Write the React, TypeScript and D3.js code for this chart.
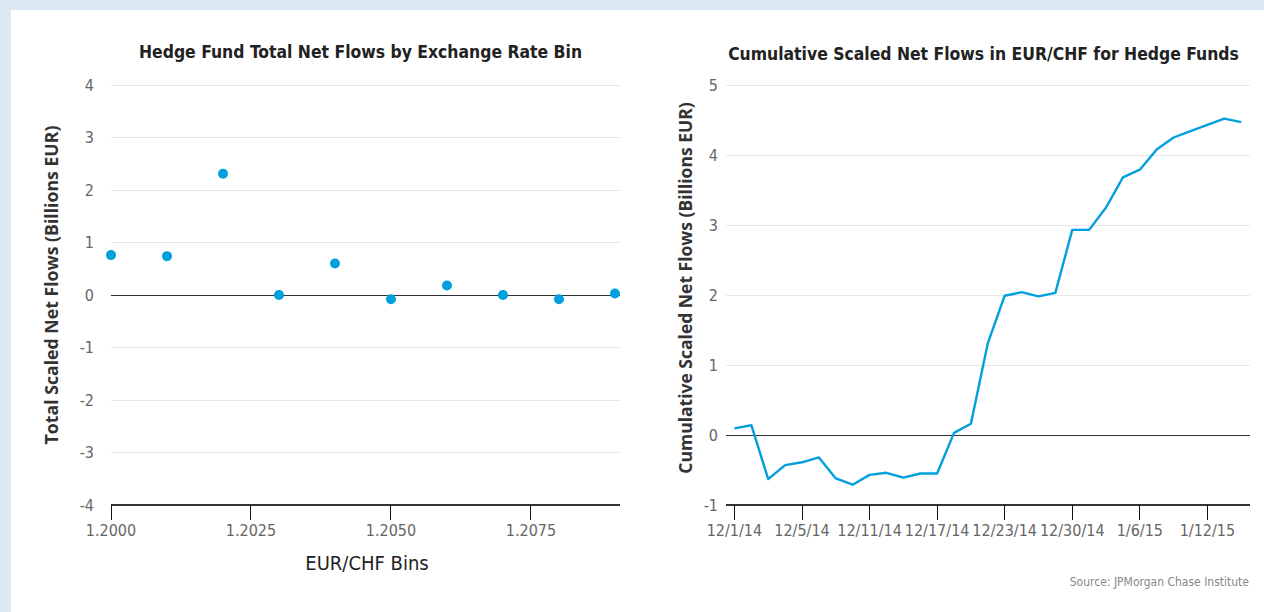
import React from "react";
import * as d3 from "d3";

const binCenters = [1.2, 1.201, 1.202, 1.203, 1.204, 1.205, 1.206, 1.207, 1.208, 1.209];
const binFlows = [0.76, 0.74, 2.31, 0.0, 0.6, -0.08, 0.18, 0.0, -0.08, 0.03];
const leftYTicks = [4, 3, 2, 1, 0, -1, -2, -3, -4];
const leftXTicks = [1.2, 1.2025, 1.205, 1.2075];

const dates = [
  "12/1/14", "12/2/14", "12/3/14", "12/4/14", "12/5/14", "12/8/14", "12/9/14", "12/10/14",
  "12/11/14", "12/12/14", "12/15/14", "12/16/14", "12/17/14", "12/18/14", "12/19/14", "12/22/14",
  "12/23/14", "12/24/14", "12/26/14", "12/29/14", "12/30/14", "12/31/14", "1/2/15", "1/5/15",
  "1/6/15", "1/7/15", "1/8/15", "1/9/15", "1/12/15", "1/13/15", "1/14/15",
];
const cumFlows = [
  0.095, 0.14, -0.63, -0.43, -0.39, -0.32, -0.62, -0.71,
  -0.57, -0.54, -0.61, -0.55, -0.55, 0.03, 0.16, 1.31,
  1.99, 2.04, 1.98, 2.03, 2.93, 2.93, 3.25, 3.68,
  3.79, 4.08, 4.25, 4.34, 4.43, 4.52, 4.47,
];
const rightYTicks = [5, 4, 3, 2, 1, 0, -1];
const rightXTicks = ["12/1/14", "12/5/14", "12/11/14", "12/17/14", "12/23/14", "12/30/14", "1/6/15", "1/12/15"];

const condensed = "'DejaVu Sans Condensed', 'Roboto', sans-serif";
const boldSans = "'Open Sans', 'DejaVu Sans', sans-serif";
const BLUE = "#00a0dd";
const GRID = "#e8e8e8";
const AXIS = "#333";
const TICK_TEXT = "#666";

function LeftChart() {
  const x = d3.scaleLinear().domain([1.2, 1.20909]).range([111, 620]);
  const y = d3.scaleLinear().domain([-4, 4]).range([505, 85]);
  const fmt = d3.format(".4f");
  return (
    <g>
      <text x={360.5} y={58} textAnchor="middle" fontFamily={condensed} fontWeight={700} fontSize={17.4} fill="#222">
        Hedge Fund Total Net Flows by Exchange Rate Bin
      </text>
      {leftYTicks.map((t) => (
        <g key={t}>
          {t !== -4 && t !== 0 && (
            <line x1={111} x2={620} y1={y(t)} y2={y(t)} stroke={GRID} strokeWidth={1} shapeRendering="crispEdges" />
          )}
          <text x={94} y={y(t)} dy="0.35em" textAnchor="end" fontFamily={condensed} fontSize={16} fill={TICK_TEXT}>
            {t}
          </text>
        </g>
      ))}
      <line x1={111} x2={620} y1={y(0)} y2={y(0)} stroke={AXIS} strokeWidth={1} shapeRendering="crispEdges" />
      <line x1={111} x2={620} y1={y(-4)} y2={y(-4)} stroke={AXIS} strokeWidth={2} shapeRendering="crispEdges" />
      {leftXTicks.map((t) => (
        <g key={t}>
          <line x1={x(t)} x2={x(t)} y1={y(-4)} y2={y(-4) + 15} stroke="#111" strokeWidth={1} shapeRendering="crispEdges" />
          <text x={x(t)} y={536} textAnchor="middle" fontFamily={condensed} fontSize={16} fill={TICK_TEXT}>
            {fmt(t)}
          </text>
        </g>
      ))}
      <text x={367} y={570} textAnchor="middle" fontFamily={condensed} fontSize={20} fill="#222">
        EUR/CHF Bins
      </text>
      <text
        transform={`translate(58,285) rotate(-90)`}
        textAnchor="middle"
        fontFamily={boldSans}
        fontWeight={700}
        fontSize={17.7}
        fill="#333"
      >
        Total Scaled Net Flows (Billions EUR)
      </text>
      {binCenters.map((b, i) => (
        <circle key={b} cx={x(b)} cy={y(binFlows[i])} r={5} fill={BLUE} />
      ))}
    </g>
  );
}

function RightChart() {
  const x = d3.scalePoint<string>().domain(dates).range([726, 1249.6]).padding(0.5);
  const y = d3.scaleLinear().domain([-1, 5]).range([505, 85]);
  const line = d3
    .line<number>()
    .x((_, i) => x(dates[i]) as number)
    .y((d) => y(d));
  return (
    <g>
      <text x={983.5} y={60} textAnchor="middle" fontFamily={condensed} fontWeight={700} fontSize={17.4} fill="#222">
        Cumulative Scaled Net Flows in EUR/CHF for Hedge Funds
      </text>
      {rightYTicks.map((t) => (
        <g key={t}>
          {t !== -1 && t !== 0 && (
            <line x1={726} x2={1249.6} y1={y(t)} y2={y(t)} stroke={GRID} strokeWidth={1} shapeRendering="crispEdges" />
          )}
          <text x={718} y={y(t)} dy="0.35em" textAnchor="end" fontFamily={condensed} fontSize={16} fill={TICK_TEXT}>
            {t}
          </text>
        </g>
      ))}
      <line x1={726} x2={1249.6} y1={y(0)} y2={y(0)} stroke={AXIS} strokeWidth={1} shapeRendering="crispEdges" />
      <line x1={726} x2={1249.6} y1={y(-1)} y2={y(-1)} stroke={AXIS} strokeWidth={2} shapeRendering="crispEdges" />
      {rightXTicks.map((t) => (
        <g key={t}>
          <line x1={x(t)} x2={x(t)} y1={y(-1)} y2={y(-1) + 15} stroke="#111" strokeWidth={1} shapeRendering="crispEdges" />
          <text x={x(t)} y={536} textAnchor="middle" fontFamily={condensed} fontSize={16} fill={TICK_TEXT}>
            {t}
          </text>
        </g>
      ))}
      <text
        transform={`translate(692,288) rotate(-90)`}
        textAnchor="middle"
        fontFamily={boldSans}
        fontWeight={700}
        fontSize={17.5}
        fill="#333"
      >
        Cumulative Scaled Net Flows (Billions EUR)
      </text>
      <path d={line(cumFlows) || ""} fill="none" stroke={BLUE} strokeWidth={2.4} strokeLinejoin="round" />
      <text x={1249} y={586} textAnchor="end" fontFamily={condensed} fontSize={12} fill="#888">
        Source: JPMorgan Chase Institute
      </text>
    </g>
  );
}

export default function App() {
  return (
    <svg
      width={1264}
      height={612}
      style={{ position: "fixed", left: 0, top: 0, display: "block" }}
    >
      <rect x={0} y={0} width={1264} height={612} fill="#dde8f5" />
      <rect x={11} y={10} width={1253} height={602} fill="#ffffff" />
      <LeftChart />
      <RightChart />
    </svg>
  );
}
